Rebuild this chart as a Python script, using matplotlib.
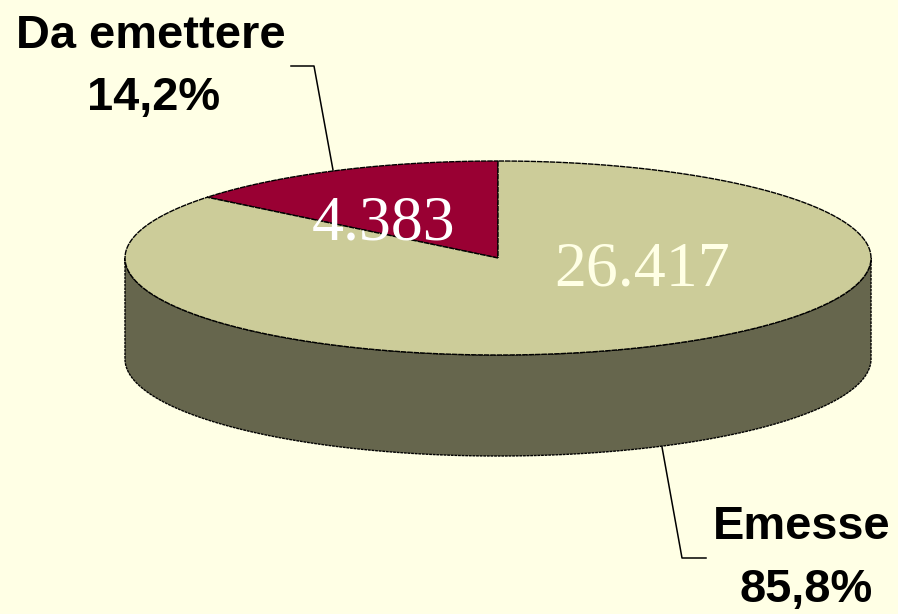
import numpy as np
import matplotlib
matplotlib.use("Agg")
import matplotlib.pyplot as plt

categories = ["Da emettere", "Emesse"]
values = [4383, 26417]
value_labels = ["4.383", "26.417"]
percent_labels = ["14,2%", "85,8%"]

BG = "#FFFFE5"
TOP = ["#990033", "#CCCC99"]
SIDE = "#66664D"

cx, cy, rx, ry, depth = 498, 258, 373, 97, 101

fig = plt.figure(figsize=(8.98, 6.14), dpi=100, facecolor=BG)
ax = fig.add_axes([0, 0, 1, 1])
ax.set_xlim(0, 898)
ax.set_ylim(614, 0)
ax.axis("off")

def pt(a, dy=0):
    return cx + rx * np.cos(a), cy - ry * np.sin(a) + dy

fracs = np.array(values) / sum(values)
start = np.pi / 2
edges = start + 2 * np.pi * np.concatenate([[0], np.cumsum(fracs)])

# side wall (visible lower half)
a = np.linspace(np.pi, 2 * np.pi, 200)
x, y = pt(a)
xb, yb = pt(a[::-1], depth)
ax.fill(np.r_[x, xb], np.r_[y, yb], fc=SIDE, ec="black", lw=1.0, ls=(0, (2, 0.6)), zorder=2)

# top wedges
for i in range(len(values)):
    a = np.linspace(edges[i], edges[i + 1], 200)
    x, y = pt(a)
    ax.fill(np.r_[cx, x], np.r_[cy, y], fc=TOP[i], ec="black", lw=1.0, ls=(0, (4, 0.6)), zorder=3)

# value labels
ax.text(384, 225, value_labels[0], color="white", family="Liberation Serif", fontsize=46,
        ha="center", va="center", zorder=5)
ax.text(642, 270, value_labels[1], color="#FFFFE5", family="Liberation Serif", fontsize=46,
        ha="center", va="center", zorder=5)

# leader lines
ax.plot([291, 314, 333], [66, 66, 170], color="black", lw=1.1, zorder=4)
ax.plot([662, 682, 706], [447, 558, 558], color="black", lw=1.1, zorder=1.5)

# category labels
LABEL = dict(fontsize=33.8, fontweight="bold", family="Liberation Sans",
             ha="center", va="center", color="black")
ax.text(151, 36, categories[0], **LABEL)
ax.text(154, 98, percent_labels[0], **LABEL)
ax.text(802, 527, categories[1], **LABEL)
ax.text(806, 590, percent_labels[1], **LABEL)

fig.savefig("out.png", dpi=100, facecolor=BG)
